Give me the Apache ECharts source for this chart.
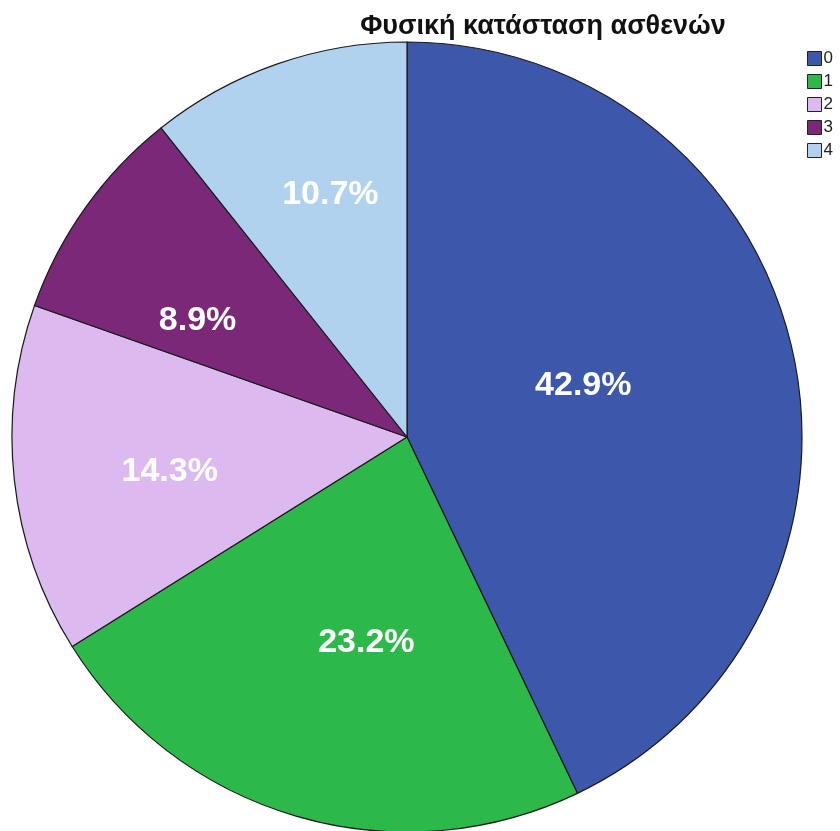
<!DOCTYPE html>
<html>
<head>
<meta charset="utf-8">
<script src="https://cdn.jsdelivr.net/npm/echarts@6/dist/echarts.min.js"></script>
<style>
  html, body { margin: 0; padding: 0; background: #fff; }
  #chart { width: 840px; height: 831px; }
</style>
</head>
<body>
<div id="chart"></div>
<script>
// Physical condition categories and their percentage shares
const categories = ['0', '1', '2', '3', '4'];
const shares = [42.9, 23.2, 14.3, 8.9, 10.7];
const colors = ['#3d57aa', '#2db84a', '#dcb9ef', '#7b2878', '#b0d2ee'];

// Label placement per slice: distance from centre (share of radius)
// and a small turn (degrees) away from the slice's middle direction
const labelDist = [0.465, 0.53, 0.607, 0.606, 0.643];
const labelTurn = [-3.5, -5, -2, -6.5, 1.7];

const PIE_CX = 407, PIE_CY = 437, PIE_R = 395;
const FONT = 'Arial, "Liberation Sans", sans-serif';

// middle direction of every slice, clockwise from 12 o'clock, in degrees
const total = shares.reduce((a, b) => a + b, 0);
const midAngles = [];
shares.reduce((acc, v) => { midAngles.push((acc + v / 2) / total * 360); return acc + v; }, 0);

const chart = echarts.init(document.getElementById('chart'), null, { renderer: 'canvas' });

chart.setOption({
  animation: false,
  backgroundColor: '#ffffff',
  title: {
    text: 'Φυσική κατάσταση ασθενών',
    left: 538,
    top: 8,
    textAlign: 'center',
    textStyle: { fontFamily: FONT, fontSize: 27, fontWeight: 'bold', color: '#111' }
  },
  legend: {
    orient: 'vertical',
    left: 802,
    top: 45,
    itemWidth: 14,
    itemHeight: 14,
    itemGap: 6,
    icon: 'rect',
    data: categories,
    textStyle: { fontFamily: FONT, fontSize: 17, color: '#222', padding: [0, 0, 0, -3] },
    itemStyle: { borderColor: '#222', borderWidth: 1 }
  },
  series: [{
    type: 'pie',
    center: [PIE_CX, PIE_CY],
    radius: [0, PIE_R],
    startAngle: 90,
    clockwise: true,
    avoidLabelOverlap: false,
    data: categories.map((c, i) => ({
      name: c,
      value: shares[i],
      itemStyle: { color: colors[i] }
    })),
    itemStyle: { borderColor: '#1a1a1a', borderWidth: 1.2 },
    label: {
      show: true,
      position: 'inside',
      formatter: p => p.value.toFixed(1) + '%',
      color: '#ffffff',
      fontFamily: FONT,
      fontSize: 34,
      fontWeight: 'bold'
    },
    labelLayout: params => {
      const i = params.dataIndex;
      const a = (midAngles[i] + labelTurn[i]) * Math.PI / 180;
      const d = labelDist[i] * PIE_R;
      return {
        x: PIE_CX + d * Math.sin(a),
        y: PIE_CY - d * Math.cos(a),
        align: 'center',
        verticalAlign: 'middle'
      };
    },
    labelLine: { show: false },
    emphasis: { disabled: true }
  }]
});
</script>
</body>
</html>
